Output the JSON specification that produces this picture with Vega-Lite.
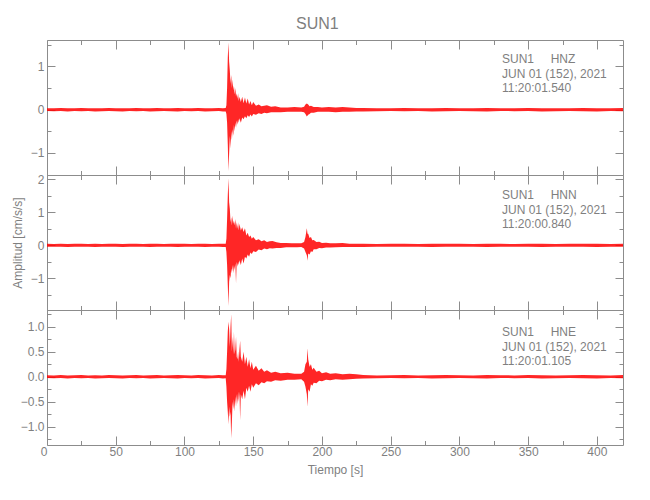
{
  "$schema": "https://vega.github.io/schema/vega-lite/v6.json",
  "background": "white",
  "padding": {"left": 10, "top": 16, "right": 5, "bottom": 5},
  "spacing": 0,
  "bounds": "flush",
  "title": {"text": "SUN1", "fontSize": 16, "font": "Liberation Sans", "fontWeight": "normal", "color": "#7f7f7f", "offset": 6, "anchor": "middle"},
  "config": {
    "view": {"stroke": "#8c8c8c", "strokeWidth": 1},
    "axis": {"domain": false, "grid": false, "tickColor": "#8c8c8c", "labelColor": "#7f7f7f", "labelFont": "Liberation Sans", "labelFontSize": 12, "titleFont": "Liberation Sans", "titleFontWeight": "normal", "titleColor": "#7f7f7f", "titleFontSize": 12, "labelOverlap": false, "labelFlush": false, "labelBound": false},
    "axisX": {"labelPadding": 10.5},
    "axisY": {"labelPadding": 11}
  },
  "datasets": {
    "hnz": [
      {"t":0,"lo":-0.03,"hi":0.035},{"t":5,"lo":-0.035,"hi":0.03},{"t":10,"lo":-0.03,"hi":0.04},{"t":15,"lo":-0.04,"hi":0.03},{"t":20,"lo":-0.03,"hi":0.035},{"t":25,"lo":-0.035,"hi":0.04},{"t":30,"lo":-0.03,"hi":0.03},{"t":35,"lo":-0.04,"hi":0.035},{"t":40,"lo":-0.035,"hi":0.03},{"t":45,"lo":-0.03,"hi":0.04},{"t":50,"lo":-0.035,"hi":0.035},{"t":55,"lo":-0.04,"hi":0.03},{"t":60,"lo":-0.03,"hi":0.035},{"t":65,"lo":-0.035,"hi":0.04},{"t":70,"lo":-0.03,"hi":0.03},{"t":75,"lo":-0.04,"hi":0.035},{"t":80,"lo":-0.035,"hi":0.04},{"t":85,"lo":-0.03,"hi":0.03},{"t":90,"lo":-0.035,"hi":0.035},{"t":95,"lo":-0.04,"hi":0.04},{"t":100,"lo":-0.03,"hi":0.035},{"t":105,"lo":-0.035,"hi":0.03},{"t":110,"lo":-0.03,"hi":0.04},{"t":115,"lo":-0.04,"hi":0.035},{"t":120,"lo":-0.035,"hi":0.03},{"t":125,"lo":-0.03,"hi":0.04},{"t":128,"lo":-0.04,"hi":0.035},
      {"t":130,"lo":-0.04,"hi":0.04},{"t":130.5,"lo":-0.1,"hi":0.1},{"t":131,"lo":-0.3,"hi":0.5},{"t":131.5,"lo":-0.8,"hi":1.2},{"t":132,"lo":-1.42,"hi":1.55},{"t":132.5,"lo":-1.0,"hi":1.1},{"t":133,"lo":-0.6,"hi":0.9},{"t":133.5,"lo":-0.9,"hi":0.6},{"t":134,"lo":-0.5,"hi":0.8},{"t":134.5,"lo":-0.7,"hi":0.5},{"t":135,"lo":-0.45,"hi":0.7},{"t":135.5,"lo":-0.6,"hi":0.45},{"t":136,"lo":-0.35,"hi":0.55},{"t":136.5,"lo":-0.5,"hi":0.35},{"t":137,"lo":-0.3,"hi":0.5},{"t":137.5,"lo":-0.42,"hi":0.3},{"t":138,"lo":-0.25,"hi":0.38},{"t":138.5,"lo":-0.35,"hi":0.25},{"t":139,"lo":-0.22,"hi":0.38},{"t":139.5,"lo":-0.3,"hi":0.2},{"t":140,"lo":-0.2,"hi":0.3},{"t":141,"lo":-0.3,"hi":0.18},{"t":142,"lo":-0.18,"hi":0.3},{"t":143,"lo":-0.22,"hi":0.15},{"t":144,"lo":-0.15,"hi":0.28},{"t":145,"lo":-0.2,"hi":0.14},{"t":146,"lo":-0.13,"hi":0.26},{"t":147,"lo":-0.17,"hi":0.12},{"t":148,"lo":-0.11,"hi":0.2},{"t":149,"lo":-0.16,"hi":0.1},{"t":150,"lo":-0.1,"hi":0.18},{"t":152,"lo":-0.12,"hi":0.09},{"t":154,"lo":-0.08,"hi":0.12},{"t":156,"lo":-0.1,"hi":0.08},{"t":158,"lo":-0.07,"hi":0.09},{"t":160,"lo":-0.08,"hi":0.1},{"t":163,"lo":-0.06,"hi":0.07},{"t":166,"lo":-0.06,"hi":0.08},{"t":170,"lo":-0.06,"hi":0.05},{"t":175,"lo":-0.05,"hi":0.05},{"t":180,"lo":-0.05,"hi":0.06},{"t":185,"lo":-0.05,"hi":0.05},{"t":187,"lo":-0.06,"hi":0.07},{"t":188,"lo":-0.1,"hi":0.12},{"t":189,"lo":-0.16,"hi":0.14},{"t":190,"lo":-0.12,"hi":0.12},{"t":191,"lo":-0.1,"hi":0.08},{"t":192,"lo":-0.07,"hi":0.09},{"t":194,"lo":-0.07,"hi":0.06},{"t":197,"lo":-0.05,"hi":0.06},{"t":200,"lo":-0.05,"hi":0.05},{"t":205,"lo":-0.05,"hi":0.06},{"t":210,"lo":-0.06,"hi":0.05},{"t":215,"lo":-0.05,"hi":0.06},{"t":220,"lo":-0.05,"hi":0.05},{"t":225,"lo":-0.04,"hi":0.04},
      {"t":230,"lo":-0.04,"hi":0.04},{"t":240,"lo":-0.035,"hi":0.03},{"t":250,"lo":-0.03,"hi":0.035},{"t":260,"lo":-0.035,"hi":0.04},{"t":270,"lo":-0.03,"hi":0.03},{"t":280,"lo":-0.04,"hi":0.035},{"t":290,"lo":-0.035,"hi":0.04},{"t":300,"lo":-0.03,"hi":0.035},{"t":310,"lo":-0.035,"hi":0.03},{"t":320,"lo":-0.04,"hi":0.04},{"t":330,"lo":-0.03,"hi":0.035},{"t":340,"lo":-0.035,"hi":0.03},{"t":350,"lo":-0.03,"hi":0.04},{"t":360,"lo":-0.04,"hi":0.035},{"t":370,"lo":-0.035,"hi":0.03},{"t":380,"lo":-0.03,"hi":0.035},{"t":390,"lo":-0.035,"hi":0.04},{"t":400,"lo":-0.04,"hi":0.035},{"t":410,"lo":-0.03,"hi":0.03},{"t":419,"lo":-0.035,"hi":0.04}
    ],
    "hnn": [
      {"t":0,"lo":-0.04,"hi":0.045},{"t":5,"lo":-0.045,"hi":0.04},{"t":10,"lo":-0.04,"hi":0.05},{"t":15,"lo":-0.05,"hi":0.04},{"t":20,"lo":-0.04,"hi":0.045},{"t":25,"lo":-0.045,"hi":0.05},{"t":30,"lo":-0.04,"hi":0.04},{"t":35,"lo":-0.05,"hi":0.045},{"t":40,"lo":-0.045,"hi":0.04},{"t":45,"lo":-0.04,"hi":0.05},{"t":50,"lo":-0.045,"hi":0.045},{"t":55,"lo":-0.05,"hi":0.04},{"t":60,"lo":-0.04,"hi":0.045},{"t":65,"lo":-0.045,"hi":0.05},{"t":70,"lo":-0.04,"hi":0.04},{"t":75,"lo":-0.05,"hi":0.045},{"t":80,"lo":-0.045,"hi":0.05},{"t":85,"lo":-0.04,"hi":0.04},{"t":90,"lo":-0.045,"hi":0.045},{"t":95,"lo":-0.05,"hi":0.05},{"t":100,"lo":-0.04,"hi":0.045},{"t":105,"lo":-0.045,"hi":0.04},{"t":110,"lo":-0.04,"hi":0.05},{"t":115,"lo":-0.05,"hi":0.045},{"t":120,"lo":-0.045,"hi":0.04},{"t":125,"lo":-0.04,"hi":0.05},{"t":128,"lo":-0.05,"hi":0.045},
      {"t":130,"lo":-0.05,"hi":0.05},{"t":130.5,"lo":-0.2,"hi":0.2},{"t":131,"lo":-0.6,"hi":0.8},{"t":131.5,"lo":-1.2,"hi":1.5},{"t":132,"lo":-1.84,"hi":2.03},{"t":132.5,"lo":-1.1,"hi":1.3},{"t":133,"lo":-0.9,"hi":1.1},{"t":133.5,"lo":-1.0,"hi":0.7},{"t":134,"lo":-0.7,"hi":0.85},{"t":134.5,"lo":-0.85,"hi":0.6},{"t":135,"lo":-0.6,"hi":0.9},{"t":135.5,"lo":-0.85,"hi":0.65},{"t":136,"lo":-0.6,"hi":0.75},{"t":136.5,"lo":-0.75,"hi":0.6},{"t":137,"lo":-0.55,"hi":0.8},{"t":137.5,"lo":-1.15,"hi":0.5},{"t":138,"lo":-0.5,"hi":0.7},{"t":138.5,"lo":-0.65,"hi":0.5},{"t":139,"lo":-0.5,"hi":0.7},{"t":139.5,"lo":-0.6,"hi":0.45},{"t":140,"lo":-0.45,"hi":0.65},{"t":141,"lo":-0.6,"hi":0.45},{"t":142,"lo":-0.4,"hi":0.55},{"t":143,"lo":-0.55,"hi":0.4},{"t":144,"lo":-0.35,"hi":0.52},{"t":145,"lo":-0.4,"hi":0.3},{"t":146,"lo":-0.28,"hi":0.38},{"t":147,"lo":-0.35,"hi":0.25},{"t":148,"lo":-0.22,"hi":0.3},{"t":149,"lo":-0.26,"hi":0.2},{"t":150,"lo":-0.18,"hi":0.25},{"t":152,"lo":-0.2,"hi":0.15},{"t":154,"lo":-0.13,"hi":0.18},{"t":156,"lo":-0.15,"hi":0.12},{"t":158,"lo":-0.1,"hi":0.15},{"t":160,"lo":-0.12,"hi":0.1},{"t":162,"lo":-0.09,"hi":0.12},{"t":164,"lo":-0.1,"hi":0.13},{"t":167,"lo":-0.08,"hi":0.09},{"t":170,"lo":-0.08,"hi":0.07},{"t":174,"lo":-0.06,"hi":0.07},{"t":178,"lo":-0.06,"hi":0.06},{"t":182,"lo":-0.06,"hi":0.06},{"t":185,"lo":-0.05,"hi":0.06},{"t":187,"lo":-0.1,"hi":0.1},{"t":188,"lo":-0.2,"hi":0.25},{"t":189,"lo":-0.3,"hi":0.52},{"t":189.5,"lo":-0.47,"hi":0.35},{"t":190,"lo":-0.25,"hi":0.35},{"t":191,"lo":-0.28,"hi":0.22},{"t":192,"lo":-0.18,"hi":0.25},{"t":193,"lo":-0.2,"hi":0.15},{"t":194,"lo":-0.12,"hi":0.16},{"t":196,"lo":-0.12,"hi":0.1},{"t":198,"lo":-0.08,"hi":0.11},{"t":200,"lo":-0.09,"hi":0.07},{"t":203,"lo":-0.07,"hi":0.08},{"t":206,"lo":-0.07,"hi":0.06},{"t":210,"lo":-0.06,"hi":0.06},{"t":215,"lo":-0.05,"hi":0.07},{"t":220,"lo":-0.05,"hi":0.05},{"t":225,"lo":-0.05,"hi":0.05},
      {"t":230,"lo":-0.05,"hi":0.05},{"t":240,"lo":-0.045,"hi":0.04},{"t":250,"lo":-0.04,"hi":0.045},{"t":260,"lo":-0.045,"hi":0.05},{"t":270,"lo":-0.04,"hi":0.04},{"t":280,"lo":-0.05,"hi":0.045},{"t":290,"lo":-0.045,"hi":0.05},{"t":300,"lo":-0.04,"hi":0.045},{"t":310,"lo":-0.045,"hi":0.04},{"t":320,"lo":-0.05,"hi":0.05},{"t":330,"lo":-0.04,"hi":0.045},{"t":340,"lo":-0.045,"hi":0.04},{"t":350,"lo":-0.04,"hi":0.05},{"t":360,"lo":-0.05,"hi":0.045},{"t":370,"lo":-0.045,"hi":0.04},{"t":380,"lo":-0.04,"hi":0.045},{"t":390,"lo":-0.045,"hi":0.05},{"t":400,"lo":-0.05,"hi":0.045},{"t":410,"lo":-0.04,"hi":0.04},{"t":419,"lo":-0.045,"hi":0.05}
    ],
    "hne": [
      {"t":0,"lo":-0.025,"hi":0.03},{"t":5,"lo":-0.03,"hi":0.025},{"t":10,"lo":-0.025,"hi":0.035},{"t":15,"lo":-0.035,"hi":0.025},{"t":20,"lo":-0.025,"hi":0.03},{"t":25,"lo":-0.03,"hi":0.035},{"t":30,"lo":-0.025,"hi":0.025},{"t":35,"lo":-0.035,"hi":0.03},{"t":40,"lo":-0.03,"hi":0.025},{"t":45,"lo":-0.025,"hi":0.035},{"t":50,"lo":-0.03,"hi":0.03},{"t":55,"lo":-0.035,"hi":0.025},{"t":60,"lo":-0.025,"hi":0.03},{"t":65,"lo":-0.03,"hi":0.035},{"t":70,"lo":-0.025,"hi":0.025},{"t":75,"lo":-0.035,"hi":0.03},{"t":80,"lo":-0.03,"hi":0.035},{"t":85,"lo":-0.025,"hi":0.025},{"t":90,"lo":-0.03,"hi":0.03},{"t":95,"lo":-0.035,"hi":0.035},{"t":100,"lo":-0.025,"hi":0.03},{"t":105,"lo":-0.03,"hi":0.025},{"t":110,"lo":-0.025,"hi":0.035},{"t":115,"lo":-0.035,"hi":0.03},{"t":120,"lo":-0.03,"hi":0.025},{"t":125,"lo":-0.025,"hi":0.035},{"t":128,"lo":-0.035,"hi":0.03},
      {"t":130,"lo":-0.03,"hi":0.03},{"t":130.5,"lo":-0.2,"hi":0.15},{"t":131,"lo":-0.5,"hi":0.5},{"t":131.5,"lo":-0.7,"hi":0.9},{"t":132,"lo":-0.95,"hi":1.1},{"t":132.5,"lo":-0.6,"hi":0.95},{"t":133,"lo":-0.8,"hi":0.6},{"t":133.5,"lo":-0.7,"hi":1.0},{"t":134,"lo":-1.23,"hi":1.25},{"t":134.5,"lo":-0.9,"hi":0.5},{"t":135,"lo":-0.5,"hi":0.8},{"t":135.5,"lo":-0.65,"hi":0.45},{"t":136,"lo":-0.45,"hi":0.9},{"t":136.5,"lo":-0.7,"hi":0.45},{"t":137,"lo":-0.4,"hi":0.55},{"t":137.5,"lo":-0.6,"hi":0.8},{"t":138,"lo":-0.35,"hi":0.4},{"t":138.5,"lo":-0.55,"hi":0.35},{"t":139,"lo":-0.3,"hi":0.5},{"t":139.5,"lo":-0.5,"hi":0.3},{"t":140,"lo":-0.3,"hi":0.55},{"t":140.5,"lo":-0.87,"hi":0.72},{"t":141,"lo":-0.35,"hi":0.4},{"t":142,"lo":-0.45,"hi":0.3},{"t":143,"lo":-0.28,"hi":0.5},{"t":144,"lo":-0.45,"hi":0.25},{"t":145,"lo":-0.22,"hi":0.4},{"t":146,"lo":-0.3,"hi":0.2},{"t":147,"lo":-0.18,"hi":0.35},{"t":148,"lo":-0.3,"hi":0.17},{"t":149,"lo":-0.15,"hi":0.3},{"t":150,"lo":-0.22,"hi":0.14},{"t":152,"lo":-0.13,"hi":0.22},{"t":154,"lo":-0.17,"hi":0.12},{"t":156,"lo":-0.11,"hi":0.17},{"t":158,"lo":-0.13,"hi":0.1},{"t":160,"lo":-0.09,"hi":0.13},{"t":163,"lo":-0.1,"hi":0.08},{"t":166,"lo":-0.07,"hi":0.1},{"t":170,"lo":-0.08,"hi":0.07},{"t":175,"lo":-0.06,"hi":0.08},{"t":180,"lo":-0.06,"hi":0.06},{"t":185,"lo":-0.05,"hi":0.06},{"t":187,"lo":-0.1,"hi":0.1},{"t":188,"lo":-0.2,"hi":0.25},{"t":189,"lo":-0.35,"hi":0.3},{"t":189.5,"lo":-0.6,"hi":0.57},{"t":190,"lo":-0.25,"hi":0.35},{"t":191,"lo":-0.3,"hi":0.2},{"t":192,"lo":-0.15,"hi":0.25},{"t":193,"lo":-0.18,"hi":0.14},{"t":194,"lo":-0.12,"hi":0.18},{"t":196,"lo":-0.13,"hi":0.1},{"t":198,"lo":-0.08,"hi":0.12},{"t":200,"lo":-0.09,"hi":0.07},{"t":203,"lo":-0.06,"hi":0.09},{"t":206,"lo":-0.07,"hi":0.06},{"t":210,"lo":-0.05,"hi":0.07},{"t":215,"lo":-0.06,"hi":0.05},{"t":220,"lo":-0.05,"hi":0.06},{"t":225,"lo":-0.04,"hi":0.05},
      {"t":230,"lo":-0.035,"hi":0.035},{"t":240,"lo":-0.03,"hi":0.025},{"t":250,"lo":-0.025,"hi":0.03},{"t":260,"lo":-0.03,"hi":0.035},{"t":270,"lo":-0.025,"hi":0.025},{"t":280,"lo":-0.035,"hi":0.03},{"t":290,"lo":-0.03,"hi":0.035},{"t":300,"lo":-0.025,"hi":0.03},{"t":310,"lo":-0.03,"hi":0.025},{"t":320,"lo":-0.035,"hi":0.035},{"t":330,"lo":-0.025,"hi":0.03},{"t":340,"lo":-0.03,"hi":0.025},{"t":350,"lo":-0.025,"hi":0.035},{"t":360,"lo":-0.035,"hi":0.03},{"t":370,"lo":-0.03,"hi":0.025},{"t":380,"lo":-0.025,"hi":0.03},{"t":390,"lo":-0.03,"hi":0.035},{"t":400,"lo":-0.035,"hi":0.03},{"t":410,"lo":-0.025,"hi":0.025},{"t":419,"lo":-0.03,"hi":0.035}
    ]
  },
  "vconcat": [
    {
      "width": 576, "height": 135,
      "data": {"name": "hnz"},
      "layer": [
        {"mark": {"type": "area", "color": "#ff0000", "opacity": 0.85},
         "encoding": {
           "x": {"field": "t", "type": "quantitative", "scale": {"domain": [0, 419], "nice": false, "zero": false},
                 "axis": {"orient": "bottom", "values": [0,25,50,75,100,125,150,175,200,225,250,275,300,325,350,375,400], "tickSize": {"condition": {"test": "datum.value % 50 === 0", "value": -9}, "value": -4.5}, "labels": false, "title": null}},
           "y": {"field": "hi", "type": "quantitative", "scale": {"domain": [-1.51, 1.61], "nice": false, "zero": false},
                 "axis": {"orient": "left", "values": [-1.5,-1,-0.5,0,0.5,1,1.5], "format": ".0f", "tickSize": {"condition": {"test": "datum.value % 1 === 0", "value": -8}, "value": -4}, "labelExpr": "datum.value % 1 === 0 ? datum.label : ''", "title": null}},
           "y2": {"field": "lo"}
         }},
        {"data": {"values": [{"info": "SUN1\u00a0\u00a0\u00a0\u00a0\u00a0HNZ|JUN 01 (152), 2021|11:20:01.540"}]},
         "mark": {"type": "text", "lineBreak": "|", "align": "left", "baseline": "top", "font": "Liberation Sans", "fontSize": 12, "lineHeight": 14.5, "color": "#7f7f7f"},
         "encoding": {
           "text": {"field": "info"},
           "x": {"datum": 331, "type": "quantitative", "axis": {"orient": "top", "values": [0,25,50,75,100,125,150,175,200,225,250,275,300,325,350,375,400], "tickSize": {"condition": {"test": "datum.value % 50 === 0", "value": -9}, "value": -4.5}, "labels": false, "title": null}},
           "y": {"datum": 1.28, "type": "quantitative", "axis": {"orient": "right", "values": [-1.5,-1,-0.5,0,0.5,1,1.5], "tickSize": {"condition": {"test": "datum.value % 1 === 0", "value": -8}, "value": -4}, "labels": false, "title": null}}
         }}
      ],
      "resolve": {"axis": {"x": "independent", "y": "independent"}}
    },
    {
      "width": 576, "height": 135,
      "data": {"name": "hnn"},
      "layer": [
        {"mark": {"type": "area", "color": "#ff0000", "opacity": 0.85},
         "encoding": {
           "x": {"field": "t", "type": "quantitative", "scale": {"domain": [0, 419], "nice": false, "zero": false},
                 "axis": {"orient": "bottom", "values": [0,25,50,75,100,125,150,175,200,225,250,275,300,325,350,375,400], "tickSize": {"condition": {"test": "datum.value % 50 === 0", "value": -9}, "value": -4.5}, "labels": false, "title": null}},
           "y": {"field": "hi", "type": "quantitative", "scale": {"domain": [-1.96, 2.13], "nice": false, "zero": false},
                 "axis": {"orient": "left", "values": [-1.5,-1,-0.5,0,0.5,1,1.5,2], "format": ".0f", "tickSize": {"condition": {"test": "datum.value % 1 === 0", "value": -8}, "value": -4}, "labelExpr": "datum.value % 1 === 0 ? datum.label : ''", "title": "Amplitud [cm/s/s]", "titlePadding": 6}},
           "y2": {"field": "lo"}
         }},
        {"data": {"values": [{"info": "SUN1\u00a0\u00a0\u00a0\u00a0\u00a0HNN|JUN 01 (152), 2021|11:20:00.840"}]},
         "mark": {"type": "text", "lineBreak": "|", "align": "left", "baseline": "top", "font": "Liberation Sans", "fontSize": 12, "lineHeight": 14.5, "color": "#7f7f7f"},
         "encoding": {
           "text": {"field": "info"},
           "x": {"datum": 331, "type": "quantitative", "axis": {"orient": "top", "values": [0,25,50,75,100,125,150,175,200,225,250,275,300,325,350,375,400], "tickSize": {"condition": {"test": "datum.value % 50 === 0", "value": -9}, "value": -4.5}, "labels": false, "title": null}},
           "y": {"datum": 1.67, "type": "quantitative", "axis": {"orient": "right", "values": [-1.5,-1,-0.5,0,0.5,1,1.5,2], "tickSize": {"condition": {"test": "datum.value % 1 === 0", "value": -8}, "value": -4}, "labels": false, "title": null}}
         }}
      ],
      "resolve": {"axis": {"x": "independent", "y": "independent"}}
    },
    {
      "width": 576, "height": 135,
      "data": {"name": "hne"},
      "layer": [
        {"mark": {"type": "area", "color": "#ff0000", "opacity": 0.85},
         "encoding": {
           "x": {"field": "t", "type": "quantitative", "scale": {"domain": [0, 419], "nice": false, "zero": false},
                 "axis": {"orient": "bottom", "values": [0,25,50,75,100,125,150,175,200,225,250,275,300,325,350,375,400], "tickSize": {"condition": {"test": "datum.value % 50 === 0", "value": -9}, "value": -4.5}, "labelExpr": "datum.value % 50 === 0 ? datum.label : ''", "labelAlign": {"condition": {"test": "datum.value === 0", "value": "right"}, "value": "center"}, "title": "Tiempo [s]", "titlePadding": 2}},
           "y": {"field": "hi", "type": "quantitative", "scale": {"domain": [-1.366, 1.333], "nice": false, "zero": false},
                 "axis": {"orient": "left", "values": [-1.25,-1,-0.75,-0.5,-0.25,0,0.25,0.5,0.75,1,1.25], "format": ".1f", "tickSize": {"condition": {"test": "abs(datum.value*2 - round(datum.value*2)) < 0.001", "value": -8}, "value": -4}, "labelExpr": "abs(datum.value*2 - round(datum.value*2)) < 0.001 ? datum.label : ''", "title": null}},
           "y2": {"field": "lo"}
         }},
        {"data": {"values": [{"info": "SUN1\u00a0\u00a0\u00a0\u00a0\u00a0HNE|JUN 01 (152), 2021|11:20:01.105"}]},
         "mark": {"type": "text", "lineBreak": "|", "align": "left", "baseline": "top", "font": "Liberation Sans", "fontSize": 12, "lineHeight": 14.5, "color": "#7f7f7f"},
         "encoding": {
           "text": {"field": "info"},
           "x": {"datum": 331, "type": "quantitative", "axis": {"orient": "top", "values": [0,25,50,75,100,125,150,175,200,225,250,275,300,325,350,375,400], "tickSize": {"condition": {"test": "datum.value % 50 === 0", "value": -9}, "value": -4.5}, "labels": false, "title": null}},
           "y": {"datum": 0.99, "type": "quantitative", "axis": {"orient": "right", "values": [-1.25,-1,-0.75,-0.5,-0.25,0,0.25,0.5,0.75,1,1.25], "tickSize": {"condition": {"test": "abs(datum.value*2 - round(datum.value*2)) < 0.001", "value": -8}, "value": -4}, "labels": false, "title": null}}
         }}
      ],
      "resolve": {"axis": {"x": "independent", "y": "independent"}}
    }
  ]
}
